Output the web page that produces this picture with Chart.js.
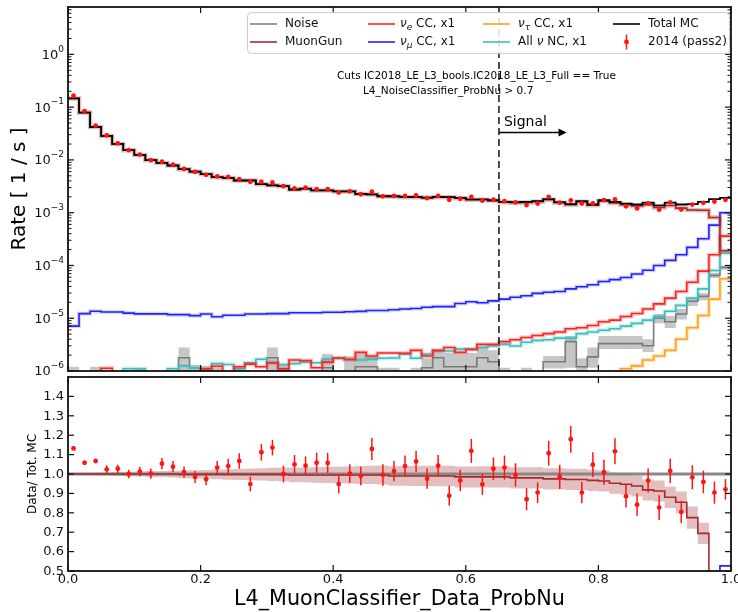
<!DOCTYPE html>
<html><head><meta charset="utf-8">
<script src="https://cdn.jsdelivr.net/npm/chart.js@4.4.1/dist/chart.umd.min.js"></script>
<style>
html,body{margin:0;padding:0;background:#fff;}
#wrap{position:relative;width:738px;height:612px;overflow:hidden;background:#fff;}
canvas{position:absolute;left:0;top:0;}
</style></head><body>
<div id="wrap"><canvas id="cTop" width="738" height="612"></canvas><canvas id="cBot" width="738" height="612"></canvas></div>
<script>
// ---------------- DATA ----------------
const N_BINS = 60, X_MIN = 0, X_MAX = 1;
const Z = 1e-9; // empty bin (below axis)
const seriesNames = ['Noise','MuonGun','νe CC, x1','νμ CC, x1','ντ CC, x1','All ν NC, x1','Total MC','2014 (pass2)'];

const totalMC = [0.146,0.079,0.042,0.0285,0.0201,0.0153,0.01245,0.00987,0.00877,0.00783,
 0.00667,0.0060,0.00536,0.0047,0.00457,0.00407,0.00407,0.00347,0.0033,0.00318,
 0.00275,0.00285,0.00264,0.00264,0.00254,0.00254,0.00226,0.00222,0.00205,0.00205,
 0.00199,0.00199,0.00193,0.00199,0.00198,0.0019,0.00178,0.00178,0.00172,0.0016,
 0.00158,0.0016,0.00165,0.0018,0.00158,0.00145,0.00165,0.00143,0.00172,0.0016,
 0.00149,0.00143,0.00155,0.00138,0.00155,0.00143,0.00145,0.0016,0.0018,0.0019];

const dataRatio = [1.132,1.058,1.067,1.024,1.027,1.000,1.012,1.002,1.053,1.038,
 1.010,0.985,0.973,1.033,1.041,1.067,0.948,1.112,1.136,1.000,
 1.050,1.043,1.058,1.057,0.948,1.002,0.990,1.129,0.995,1.015,
 1.041,1.065,0.976,1.043,0.888,0.967,1.119,0.947,1.027,1.033,
 0.995,0.870,0.904,1.107,0.985,1.179,0.904,1.048,1.009,1.117,
 0.885,0.842,0.966,0.827,1.016,0.804,0.983,0.959,0.904,0.921];

const dataRatioErr = [0.004,0.005,0.007,0.021,0.021,0.022,0.024,0.026,0.029,0.029,
 0.029,0.031,0.031,0.034,0.038,0.040,0.038,0.043,0.040,0.043,
 0.048,0.048,0.052,0.052,0.048,0.048,0.048,0.057,0.055,0.052,
 0.055,0.055,0.052,0.055,0.052,0.055,0.062,0.055,0.058,0.062,
 0.060,0.057,0.053,0.064,0.062,0.069,0.055,0.064,0.064,0.067,
 0.058,0.057,0.062,0.064,0.064,0.057,0.062,0.058,0.057,0.053];

const muonGunRatio = [1.0,1.0,1.0,1.0,1.0,1.0,1.0,1.0,1.0,1.0,
 0.998,0.998,0.998,0.998,0.998,0.998,0.998,0.998,0.998,0.998,
 0.995,0.995,0.995,0.995,0.995,0.995,0.995,0.995,0.995,0.99,
 0.99,0.99,0.99,0.99,0.99,0.985,0.985,0.985,0.985,0.985,
 0.98,0.98,0.98,0.975,0.975,0.972,0.972,0.967,0.964,0.952,
 0.947,0.938,0.918,0.912,0.880,0.854,0.775,0.694,0.45,0.10];

const muonGunBand = [0.003,0.005,0.007,0.008,0.010,0.012,0.013,0.015,0.016,0.018,
 0.020,0.021,0.023,0.025,0.027,0.029,0.030,0.032,0.034,0.035,
 0.037,0.038,0.040,0.041,0.043,0.044,0.046,0.047,0.049,0.050,
 0.051,0.052,0.052,0.053,0.053,0.054,0.054,0.055,0.055,0.055,
 0.055,0.055,0.055,0.055,0.055,0.055,0.055,0.055,0.054,0.054,
 0.054,0.054,0.054,0.054,0.055,0.056,0.057,0.055,0.055,0.055];

const numuCC = [7.1e-6,1.22e-5,1.36e-5,1.31e-5,1.31e-5,1.25e-5,1.21e-5,1.21e-5,1.21e-5,1.17e-5,
 1.17e-5,1.12e-5,1.2e-5,1.07e-5,1.14e-5,1.14e-5,1.2e-5,1.2e-5,1.22e-5,1.22e-5,
 1.27e-5,1.27e-5,1.27e-5,1.3e-5,1.3e-5,1.33e-5,1.35e-5,1.4e-5,1.4e-5,1.45e-5,
 1.5e-5,1.53e-5,1.61e-5,1.66e-5,1.66e-5,1.9e-5,2.05e-5,1.96e-5,2.13e-5,2.3e-5,
 2.5e-5,2.67e-5,2.96e-5,3.1e-5,3.2e-5,3.6e-5,3.95e-5,4.3e-5,4.98e-5,5.4e-5,
 5.9e-5,6.9e-5,8.1e-5,1.0e-4,1.25e-4,1.6e-4,2.2e-4,3.2e-4,5.8e-4,1.0e-3];

const nueCC = [Z,Z,Z,1.13e-6,9e-7,9e-7,9.5e-7,9e-7,9.5e-7,9e-7,
 9.5e-7,9e-7,1.1e-6,1.23e-6,9.5e-7,1.2e-6,1.35e-6,1.2e-6,1.43e-6,1.1e-6,
 1.62e-6,1.58e-6,1.15e-6,1.47e-6,1.76e-6,1.65e-6,2.27e-6,1.93e-6,2.2e-6,2.2e-6,
 2.17e-6,2.46e-6,1.93e-6,2.46e-6,2.78e-6,2.27e-6,2.56e-6,3.2e-6,3.2e-6,3.6e-6,
 3.9e-6,4.3e-6,4.7e-6,5.1e-6,5.5e-6,6.3e-6,6.6e-6,7.3e-6,8.6e-6,9.2e-6,
 1.08e-5,1.23e-5,1.5e-5,1.87e-5,2.4e-5,3.2e-5,4.8e-5,7.8e-5,1.6e-4,3.6e-4];

const nutauCC = [Z,Z,Z,Z,Z,Z,Z,Z,Z,Z, Z,Z,Z,Z,Z,Z,Z,Z,Z,Z, Z,Z,Z,Z,Z,Z,Z,Z,Z,Z,
 Z,Z,Z,Z,Z,Z,Z,Z,Z,Z, Z,Z,Z,Z,Z,Z,Z,Z,Z,Z,
 1.1e-6,1.25e-6,1.62e-6,1.93e-6,2.46e-6,4.0e-6,6.6e-6,1.13e-5,2.3e-5,5.6e-5];

const allNC = [Z,Z,Z,Z,Z,1.1e-6,1.1e-6,9e-7,9e-7,1.1e-6,
 1.25e-6,1.15e-6,1.05e-6,1.38e-6,1.33e-6,1.1e-6,1.43e-6,1.67e-6,1.43e-6,1.33e-6,
 1.38e-6,1.47e-6,1.43e-6,1.68e-6,1.74e-6,1.65e-6,1.62e-6,1.68e-6,1.74e-6,1.76e-6,
 2.1e-6,1.74e-6,2.1e-6,2.4e-6,2.4e-6,2.6e-6,2.6e-6,2.8e-6,2.98e-6,3.2e-6,
 2.98e-6,3.5e-6,3.8e-6,3.9e-6,4.2e-6,4.2e-6,5.1e-6,5.5e-6,5.9e-6,6.3e-6,
 7.1e-6,8.0e-6,9.2e-6,1.08e-5,1.36e-5,1.75e-5,2.4e-5,3.6e-5,8.0e-5,1.7e-4];

const noise = [5e-7,Z,5e-7,Z,Z,Z,5e-7,Z,Z,Z,
 1.78e-6,1.15e-6,1.1e-6,5e-7,Z,5e-7,Z,Z,1.78e-6,1.1e-6,
 Z,Z,Z,1.15e-6,Z,5e-7,1.2e-6,1.2e-6,5e-7,5e-7,
 Z,5e-7,1.15e-6,1.78e-6,1.2e-6,1.2e-6,1.2e-6,1.78e-6,1.5e-6,5e-7,
 Z,5e-7,Z,1.5e-6,1.5e-6,3.6e-6,1.2e-6,1.85e-6,3.3e-6,3.3e-6,
 3.3e-6,3.3e-6,3.0e-6,1.0e-5,8.6e-6,1.2e-5,2.1e-5,2.6e-5,6.5e-5,9.2e-5];
const noiseLo = [Z,Z,Z,Z,Z,Z,Z,Z,Z,Z, Z,Z,Z,Z,Z,Z,Z,Z,Z,Z, Z,Z,Z,Z,Z,Z,Z,Z,Z,Z,
 Z,Z,Z,Z,Z,Z,Z,Z,Z,Z, Z,Z,Z,1.12e-6,1.12e-6,1.15e-6,Z,1.15e-6,2.6e-6,2.6e-6,
 2.6e-6,2.6e-6,2.3e-6,8e-6,6.5e-6,9.5e-6,1.7e-5,2.2e-5,5.8e-5,8.3e-5];
const noiseHi = [1.2e-6,Z,1.2e-6,Z,Z,Z,1.15e-6,Z,Z,Z,
 2.8e-6,1.3e-6,1.25e-6,1.15e-6,Z,1.15e-6,Z,Z,2.8e-6,1.3e-6,
 Z,Z,Z,2.1e-6,Z,1.9e-6,2.2e-6,1.9e-6,1.15e-6,1.15e-6,
 Z,1.15e-6,1.74e-6,2.46e-6,2.2e-6,2.2e-6,2.2e-6,2.8e-6,2.46e-6,1.15e-6,
 Z,1.15e-6,Z,1.93e-6,1.93e-6,4.6e-6,1.74e-6,2.8e-6,4.6e-6,4.6e-6,
 4.6e-6,4.6e-6,4.0e-6,1.2e-5,1.1e-5,1.5e-5,2.4e-5,3.0e-5,7.2e-5,1.0e-4];

const xTicks = [0,0.2,0.4,0.6,0.8,1.0];
const xTickLabels = ['0.0','0.2','0.4','0.6','0.8','1.0'];
const rateTicks = [1e-6,1e-5,1e-4,1e-3,1e-2,1e-1,1];
const rateTickExp = ['−6','−5','−4','−3','−2','−1','0'];
const ratioTicks = [0.5,0.6,0.7,0.8,0.9,1.0,1.1,1.2,1.3,1.4];
const ratioTickLabels = ['0.5','0.6','0.7','0.8','0.9','1.0','1.1','1.2','1.3','1.4'];
const RATE_MIN = 1e-6, RATE_MAX = 7.9, RATIO_MIN = 0.5, RATIO_MAX = 1.5;
const signalCut = 0.65, signalArrowEnd = 0.752;
const cutText = ['Cuts IC2018_LE_L3_bools.IC2018_LE_L3_Full == True','L4_NoiseClassifier_ProbNu > 0.7'];
const xTitle = 'L4_MuonClassifier_Data_ProbNu';
const yTitleTop = 'Rate [ 1 / s ]';
const yTitleBot = 'Data/ Tot. MC';

// ---------------- helpers ----------------
const FONT = '"DejaVu Sans", Verdana, sans-serif';
const edges = Array.from({length:N_BINS+1},(_,i)=>X_MIN+(X_MAX-X_MIN)*i/N_BINS);
const centers = Array.from({length:N_BINS},(_,i)=>(edges[i]+edges[i+1])/2);
function stepData(v){const p=v.map((y,i)=>({x:edges[i],y}));p.push({x:edges[N_BINS],y:v[N_BINS-1]});return p;}
function stepDS(v,color,w,extra){return Object.assign({data:stepData(v),stepped:'before',borderColor:color,borderWidth:w,pointRadius:0,fill:false,tension:0},extra||{});}

const muonGun = muonGunRatio.map((r,i)=>r*totalMC[i]);
const dataRate = dataRatio.map((r,i)=>r*totalMC[i]);
const numuRatio = numuCC.map((v,i)=>v/totalMC[i]);
const mgLo = muonGunRatio.map((r,i)=>r-muonGunBand[i]);
const mgHi = muonGunRatio.map((r,i)=>r+muonGunBand[i]);

function line(ctx,x1,y1,x2,y2){ctx.beginPath();ctx.moveTo(x1,y1);ctx.lineTo(x2,y2);ctx.stroke();}

function drawFrame(chart, yMajor, yMinor){
  const {ctx, chartArea:a, scales:{x,y}} = chart;
  ctx.save();
  ctx.strokeStyle='#111';
  ctx.lineWidth=1.2;
  for(const t of xTicks){const px=x.getPixelForValue(t);line(ctx,px,a.top,px,a.top+6);line(ctx,px,a.bottom,px,a.bottom-6);}
  for(const t of yMajor){const py=y.getPixelForValue(t);line(ctx,a.left,py,a.left+6,py);line(ctx,a.right,py,a.right-6,py);}
  ctx.lineWidth=1;
  for(const t of yMinor){const py=y.getPixelForValue(t);line(ctx,a.left,py,a.left+3.5,py);line(ctx,a.right,py,a.right-3.5,py);}
  ctx.lineWidth=1.8;
  ctx.strokeRect(a.left,a.top,a.right-a.left,a.bottom-a.top);
  ctx.restore();
}
function drawRich(ctx,x,y,segs){
  let cx=x;
  for(const s of segs){
    const size=s.sub?9:12;
    ctx.font=(s.it?'italic ':'')+size+'px '+FONT;
    ctx.fillText(s.t,cx,y+(s.sub?3.5:0));
    cx+=ctx.measureText(s.t).width;
  }
}
const rateMinor=[];
for(let d=-6;d<=0;d++){for(let m=2;m<=9;m++){const v=m*Math.pow(10,d);if(v<=RATE_MAX)rateMinor.push(v);}}

// ---------------- TOP PANEL ----------------
const red='#ff1414';
const topLayers=[
  stepDS(noiseLo,'rgba(0,0,0,0)',0),
  stepDS(noiseHi,'rgba(0,0,0,0)',0,{fill:'-1',backgroundColor:'rgba(128,128,128,0.45)'}),
  stepDS(noise,'#7a7a7a',1.6),
  stepDS(nutauCC,'rgba(255,165,0,0.28)',4),stepDS(nutauCC,'#ffa020',1.6),
  stepDS(allNC,'rgba(64,191,191,0.28)',4),stepDS(allNC,'#3cbfbf',1.6),
  stepDS(nueCC,'rgba(255,0,0,0.22)',4),stepDS(nueCC,'#ff2222',1.6),
  stepDS(numuCC,'rgba(0,0,255,0.16)',4),stepDS(numuCC,'#2222ff',1.6),
  stepDS(muonGun,'rgba(165,42,42,0.3)',4.5),stepDS(muonGun,'#a52a2a',1.6),
  stepDS(totalMC,'#000',1.8),
  {data:centers.map((c,i)=>({x:c,y:dataRate[i]})),showLine:false,pointRadius:2.4,pointBackgroundColor:red,pointBorderWidth:0}
];
topLayers.forEach((d,i)=>d.order=topLayers.length-i);

const topPlugin={id:'topDeco',
  afterDatasetsDraw(chart){
    const {ctx,chartArea:a,scales:{x}}=chart;
    ctx.save();
    const cx=x.getPixelForValue(signalCut);
    ctx.strokeStyle='#222';ctx.lineWidth=1.6;ctx.setLineDash([7,4]);
    line(ctx,cx,a.top,cx,a.bottom);
    ctx.setLineDash([]);
    const ax2=x.getPixelForValue(signalArrowEnd), ay=132.5;
    ctx.strokeStyle='#000';ctx.lineWidth=1.3;line(ctx,cx,ay,ax2-7,ay);
    ctx.fillStyle='#000';ctx.beginPath();ctx.moveTo(ax2,ay);ctx.lineTo(ax2-8,ay-4);ctx.lineTo(ax2-8,ay+4);ctx.closePath();ctx.fill();
    ctx.font='14px '+FONT;ctx.textBaseline='middle';ctx.textAlign='left';
    ctx.fillText('Signal',cx+5,122);
    ctx.font='10px '+FONT;
    const w0=ctx.measureText(cutText[0]).width;
    const fs=10*279/w0;
    ctx.font=fs.toFixed(2)+'px '+FONT;
    ctx.fillText(cutText[0],337,76.5);
    ctx.fillText(cutText[1],363,91.5);
    ctx.restore();
  },
  afterDraw(chart){
    const {ctx,chartArea:a,scales:{y}}=chart;
    drawFrame(chart,rateTicks,rateMinor);
    ctx.save();
    ctx.fillStyle='#111';ctx.textBaseline='middle';ctx.textAlign='left';
    for(let i=0;i<rateTicks.length;i++){
      const py=y.getPixelForValue(rateTicks[i]);
      ctx.font='9px '+FONT;const ew=ctx.measureText(rateTickExp[i]).width;
      ctx.font='13px '+FONT;const bw=ctx.measureText('10').width;
      const xr=64;
      ctx.fillText('10',xr-ew-bw,py+1);
      ctx.font='9px '+FONT;ctx.fillText(rateTickExp[i],xr-ew,py-5);
    }
    ctx.save();ctx.translate(20,189);ctx.rotate(-Math.PI/2);
    ctx.font='20px '+FONT;ctx.textAlign='center';ctx.textBaseline='middle';ctx.fillStyle='#000';
    ctx.fillText(yTitleTop,0,0);ctx.restore();
    const bx=247.5,by=12.5,bw2=482,bh=41,r=4;
    ctx.beginPath();ctx.moveTo(bx+r,by);ctx.lineTo(bx+bw2-r,by);ctx.quadraticCurveTo(bx+bw2,by,bx+bw2,by+r);
    ctx.lineTo(bx+bw2,by+bh-r);ctx.quadraticCurveTo(bx+bw2,by+bh,bx+bw2-r,by+bh);ctx.lineTo(bx+r,by+bh);
    ctx.quadraticCurveTo(bx,by+bh,bx,by+bh-r);ctx.lineTo(bx,by+r);ctx.quadraticCurveTo(bx,by,bx+r,by);ctx.closePath();
    ctx.fillStyle='rgba(255,255,255,0.85)';ctx.fill();ctx.strokeStyle='#cccccc';ctx.lineWidth=1;ctx.stroke();
    const colLine=[250,368,483,613], colText=[285,400,518,648], rowY=[24,42];
    const entries=[
      {c:0,r:0,col:'#808080',segs:[{t:seriesNames[0]}]},
      {c:0,r:1,col:'#a52a2a',segs:[{t:seriesNames[1]}]},
      {c:1,r:0,col:'#ff2222',segs:[{t:'ν',it:1},{t:'e',it:1,sub:1},{t:' CC, x1'}]},
      {c:1,r:1,col:'#2222ff',segs:[{t:'ν',it:1},{t:'μ',it:1,sub:1},{t:' CC, x1'}]},
      {c:2,r:0,col:'#ffa020',segs:[{t:'ν',it:1},{t:'τ',it:1,sub:1},{t:' CC, x1'}]},
      {c:2,r:1,col:'#3cbfbf',segs:[{t:'All '},{t:'ν',it:1},{t:' NC, x1'}]},
      {c:3,r:0,col:'#000',segs:[{t:seriesNames[6]}]},
      {c:3,r:1,marker:true,segs:[{t:seriesNames[7]}]}
    ];
    ctx.textBaseline='middle';ctx.textAlign='left';
    for(const e of entries){
      const ly=rowY[e.r], lx=colLine[e.c];
      if(e.marker){
        ctx.strokeStyle=red;ctx.lineWidth=1.5;line(ctx,lx+13.5,ly-7.5,lx+13.5,ly+7.5);
        ctx.fillStyle=red;ctx.beginPath();ctx.arc(lx+13.5,ly,2.4,0,Math.PI*2);ctx.fill();
      } else {
        ctx.strokeStyle=e.col;ctx.lineWidth=1.6;line(ctx,lx,ly,lx+27,ly);
      }
      ctx.fillStyle='#111';
      drawRich(ctx,colText[e.c],ly,e.segs);
    }
    ctx.restore();
  }
};

new Chart(document.getElementById('cTop'),{
  type:'line',
  data:{datasets:topLayers},
  options:{responsive:false,animation:false,devicePixelRatio:1,events:[],
    layout:{padding:{left:68,right:7,top:7,bottom:612-371}},
    scales:{x:{type:'linear',min:X_MIN,max:X_MAX,display:false},
            y:{type:'logarithmic',min:RATE_MIN,max:RATE_MAX,display:false}},
    plugins:{legend:{display:false},tooltip:{enabled:false}}},
  plugins:[topPlugin]
});

// ---------------- BOTTOM PANEL ----------------
const botLayers=[
  stepDS(mgLo,'rgba(0,0,0,0)',0),
  stepDS(mgHi,'rgba(0,0,0,0)',0,{fill:'-1',backgroundColor:'rgba(165,42,42,0.3)'}),
  {data:[{x:X_MIN,y:1},{x:X_MAX,y:1}],borderColor:'#888888',borderWidth:3,pointRadius:0,fill:false},
  stepDS(muonGunRatio,'#a52a2a',1.6),
  stepDS(numuRatio,'#2222ff',1.6),
  {data:centers.map((c,i)=>({x:c,y:dataRatio[i]})),showLine:false,pointRadius:2.4,pointBackgroundColor:red,pointBorderWidth:0}
];
botLayers.forEach((d,i)=>d.order=botLayers.length-i);

const botPlugin={id:'botDeco',
  afterDatasetsDraw(chart){
    const {ctx,chartArea:a,scales:{x,y}}=chart;
    ctx.save();
    ctx.beginPath();ctx.rect(a.left,a.top,a.right-a.left,a.bottom-a.top);ctx.clip();
    ctx.strokeStyle=red;ctx.lineWidth=1.5;
    for(let i=0;i<N_BINS;i++){
      const px=x.getPixelForValue(centers[i]);
      line(ctx,px,y.getPixelForValue(dataRatio[i]-dataRatioErr[i]),px,y.getPixelForValue(dataRatio[i]+dataRatioErr[i]));
    }
    ctx.restore();
  },
  afterDraw(chart){
    const {ctx,chartArea:a,scales:{x,y}}=chart;
    drawFrame(chart,ratioTicks,[]);
    ctx.save();
    ctx.fillStyle='#111';
    ctx.font='13px '+FONT;ctx.textAlign='right';ctx.textBaseline='middle';
    ratioTicks.forEach((t,i)=>ctx.fillText(ratioTickLabels[i],64,y.getPixelForValue(t)+0.5));
    ctx.textAlign='center';
    xTicks.forEach((t,i)=>ctx.fillText(xTickLabels[i],x.getPixelForValue(t),580));
    ctx.font='20px '+FONT;const w=ctx.measureText(xTitle).width;
    ctx.font=(20*331/w).toFixed(2)+'px '+FONT;ctx.fillStyle='#000';
    ctx.fillText(xTitle,(a.left+a.right)/2,600);
    ctx.save();ctx.translate(33,474);ctx.rotate(-Math.PI/2);
    ctx.font='12px '+FONT;ctx.textAlign='center';ctx.textBaseline='middle';
    ctx.fillText(yTitleBot,0,0);ctx.restore();
    ctx.restore();
  }
};

new Chart(document.getElementById('cBot'),{
  type:'line',
  data:{datasets:botLayers},
  options:{responsive:false,animation:false,devicePixelRatio:1,events:[],
    layout:{padding:{left:68,right:7,top:377,bottom:612-571}},
    scales:{x:{type:'linear',min:X_MIN,max:X_MAX,display:false},
            y:{type:'linear',min:RATIO_MIN,max:RATIO_MAX,display:false}},
    plugins:{legend:{display:false},tooltip:{enabled:false}}},
  plugins:[botPlugin]
});
</script>
</body></html>
